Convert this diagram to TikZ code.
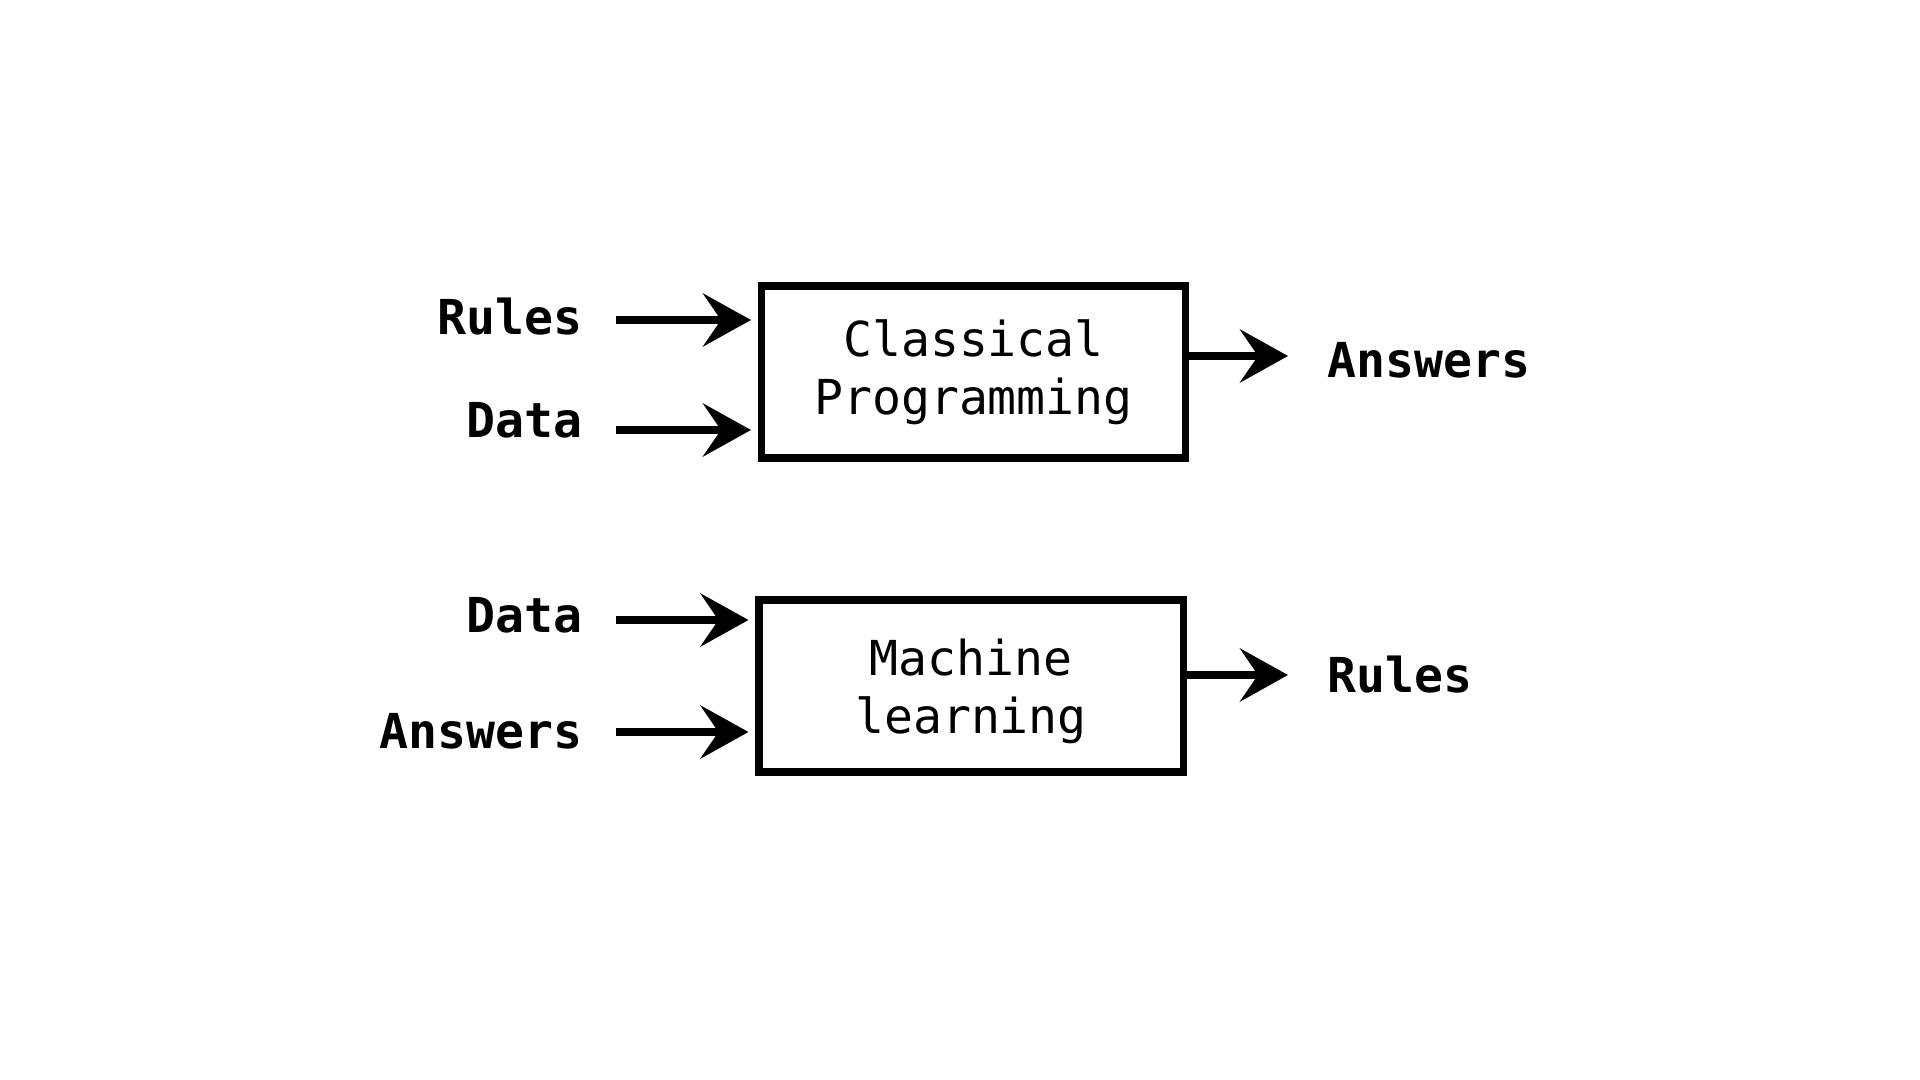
\documentclass[tikz,border=0pt]{standalone}
\usepackage{fontspec}
\setmonofont{DejaVu Sans Mono}
\usetikzlibrary{arrows.meta,positioning}

\begin{document}
\begin{tikzpicture}[
  block/.style={draw, line width=2pt, minimum width=4.24cm, minimum height=1.72cm, align=center, font=\ttfamily\fontsize{13.7}{16.4}\selectfont},
  io/.style={font=\ttfamily\bfseries\fontsize{13.7}{16.4}\selectfont, inner sep=0pt},
  arr/.style={-{Stealth[length=4.8mm, width=5.3mm, inset=1.8mm]}, line width=2.4pt},
]
  \useasboundingbox (0,0) rectangle (19.2,-10.8);

  % Boxes
  \node[block] (classical) at (9.735,-3.72) {Classical\\Programming};
  \node[block, text height=30pt] (ml) at (9.71,-6.86) {Machine\\learning};

  % Inputs and outputs
  \node[io, anchor=east] (rulesin) at (5.83,-3.17) {Rules};
  \node[io, anchor=east] (datain) at (5.83,-4.20) {Data};
  \node[io, anchor=east] (datamlin) at (5.83,-6.15) {Data};
  \node[io, anchor=east] (answersin) at (5.83,-7.31) {Answers};
  \node[io, anchor=west] (answersout) at (13.27,-3.60) {Answers};
  \node[io, anchor=west] (rulesout) at (13.27,-6.75) {Rules};

  % Arrow ends
  \coordinate (r1) at (6.16,-3.20);
  \coordinate (d1) at (6.16,-4.30);
  \coordinate (d2) at (6.16,-6.20);
  \coordinate (a2) at (6.16,-7.32);
  \coordinate (a1) at (12.88,-3.56);
  \coordinate (r2) at (12.88,-6.75);

  % Edges
  \draw[arr, shorten >=0.7mm] (r1) -- (r1 -| classical.west);
  \draw[arr, shorten >=0.7mm] (d1) -- (d1 -| classical.west);
  \draw[arr, shorten >=0.7mm] (d2) -- (d2 -| ml.west);
  \draw[arr, shorten >=0.7mm] (a2) -- (a2 -| ml.west);
  \draw[arr] (a1 -| classical.east) -- (a1);
  \draw[arr] (r2 -| ml.east) -- (r2);
\end{tikzpicture}
\end{document}
